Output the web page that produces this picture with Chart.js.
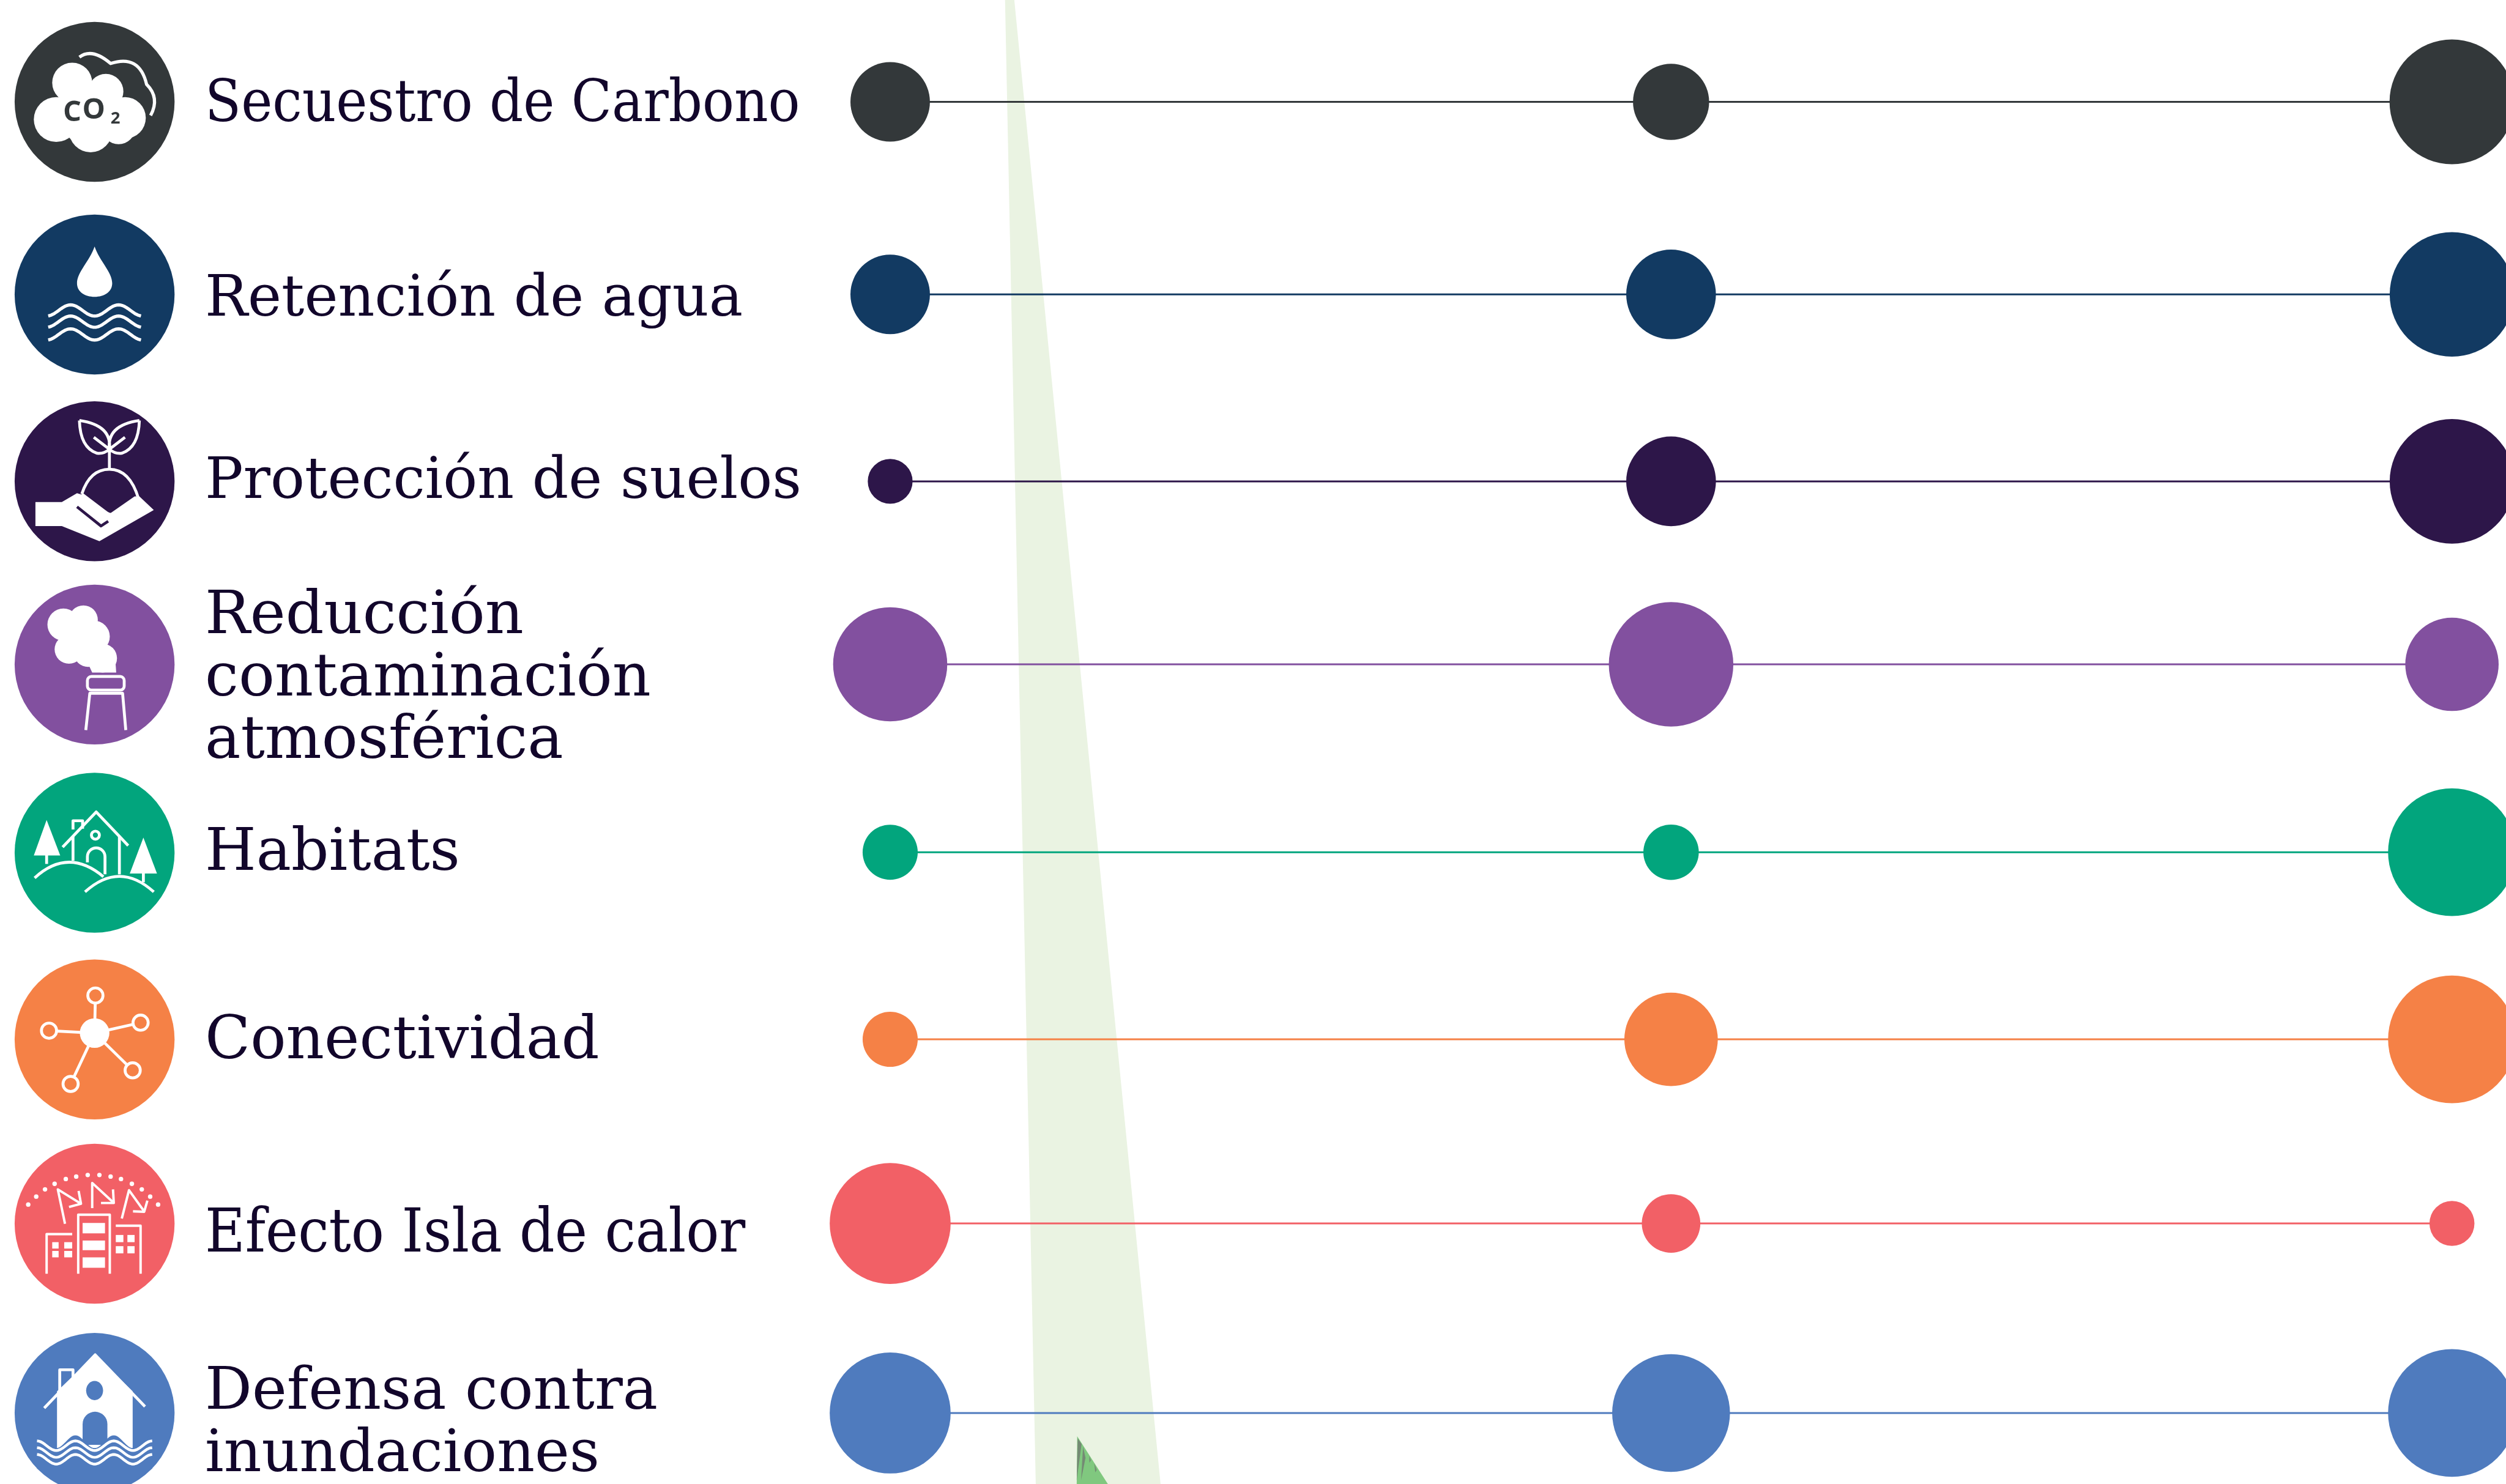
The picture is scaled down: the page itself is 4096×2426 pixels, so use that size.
<!DOCTYPE html>
<html lang="es">
<head>
<meta charset="utf-8">
<title>Servicios ecosistémicos</title>
<script src="https://cdn.jsdelivr.net/npm/chart.js@4/dist/chart.umd.js"></script>
<style>
    html, body { margin: 0; padding: 0; background: #fff; overflow: hidden; }
    canvas { display: block; }
</style>
</head>
<body>
<canvas id="chart" width="4096" height="2426"></canvas>
<script>
// Row labels, as broken over lines in the picture
const categories = [
    ['Secuestro de Carbono'],
    ['Retención de agua'],
    ['Protección de suelos'],
    ['Reducción', 'contaminación', 'atmosférica'],
    ['Habitats'],
    ['Conectividad'],
    ['Efecto Isla de calor'],
    ['Defensa contra', 'inundaciones']
];

// Three unnamed columns, one value per column (biggest = 100)
const columns = [0, 1, 2];
const secuestro = [38.7, 35.5, 95.5];
const retencion = [38.7, 49.3, 95];
const proteccion = [12.3, 49.3, 95];
const reduccion = [79.8, 95, 53.4];
const habitats = [18.6, 18.8, 100];
const conectividad = [18.6, 53.5, 100];
const efectoIsla = [89.6, 21, 12.4];
const defensa = [89.6, 85, 100];
const seriesValues = [secuestro, retencion, proteccion, reduccion, habitats, conectividad, efectoIsla, defensa];

const rowColors = ['#33383a', '#123a62', '#2d1649', '#82509f', '#02a57d', '#f58146', '#f26066', '#4f7bbe'];

// Rows are not quite evenly spaced in the original
const rowAt = [0, 1.028, 2.026, 3.003, 4.006, 5.005, 5.988, 7];
const labelAt = [0.023, 1.062, 2.035, 3.086, 4.020, 5.023, 6.052, 7.064];
const labelSizes = [96, 93, 93, 98, 96, 97, 100, 96];
const labelFamilies = ['"DejaVu Serif Condensed"', '"DejaVu Serif"', '"DejaVu Serif"', '"DejaVu Serif"',
    '"DejaVu Serif"', '"DejaVu Serif"', '"DejaVu Serif Condensed"', '"DejaVu Serif"'];

const S = 4096 / 5139;
const MAX_RADIUS = 131 * S;
const ICON_X = 194 * S;
const ICON_R = 164 * S;
const iconRows = [209, 604, 987, 1363, 1749, 2132, 2510, 2898];
const WHITE = '#ffffff';

function bubbleRadius(value) {
    return MAX_RADIUS * Math.sqrt(value / 100);
}

function line(ctx, pts, width) {
    ctx.beginPath();
    pts.forEach((p, i) => (i ? ctx.lineTo(p[0], p[1]) : ctx.moveTo(p[0], p[1])));
    ctx.lineWidth = width || 3.6;
    ctx.strokeStyle = WHITE;
    ctx.stroke();
}

function fillPoly(ctx, pts, color) {
    ctx.beginPath();
    pts.forEach((p, i) => (i ? ctx.lineTo(p[0], p[1]) : ctx.moveTo(p[0], p[1])));
    ctx.closePath();
    ctx.fillStyle = color || WHITE;
    ctx.fill();
}

function disc(ctx, x, y, r, color) {
    ctx.beginPath();
    ctx.arc(x, y, r, 0, Math.PI * 2);
    ctx.fillStyle = color || WHITE;
    ctx.fill();
}

function ring(ctx, x, y, r, width) {
    ctx.beginPath();
    ctx.arc(x, y, r, 0, Math.PI * 2);
    ctx.lineWidth = width || 3.6;
    ctx.strokeStyle = WHITE;
    ctx.stroke();
}

function wave(ctx, y0, amp, period, half, width) {
    const pts = [];
    for (let x = -half; x <= half; x += 2) {
        pts.push([x, y0 + amp * Math.cos(2 * Math.PI * x / period)]);
    }
    line(ctx, pts, width);
}

const iconGlyphs = [
    function co2(ctx, bg) {
        [[-28, -24, 25], [14, -13, 22], [38, 20, 26], [-48, 22, 28], [-5, 36, 27], [30, 32, 21], [-5, 15, 40]]
            .forEach(c => disc(ctx, c[0], c[1], c[2]));
        ctx.beginPath();
        ctx.moveTo(-19, -56);
        ctx.quadraticCurveTo(-3, -68, 20, -48);
        ctx.quadraticCurveTo(56, -60, 65, -22);
        ctx.quadraticCurveTo(82, -5, 70, 17);
        ctx.lineWidth = 4;
        ctx.strokeStyle = WHITE;
        ctx.stroke();
        ctx.fillStyle = bg;
        ctx.textAlign = 'center';
        ctx.textBaseline = 'middle';
        ctx.font = '700 36px "Open Sans"';
        ctx.fillText('C', -28, 14);
        ctx.fillText('O', -1, 11);
        ctx.font = '700 21px "Open Sans"';
        ctx.fillText('2', 26, 21);
    },
    function water(ctx) {
        ctx.beginPath();
        ctx.moveTo(0, -60);
        ctx.bezierCurveTo(-6, -42, -22, -28, -22, -14);
        ctx.bezierCurveTo(-22, -3, -12, 3, 0, 3);
        ctx.bezierCurveTo(12, 3, 22, -3, 22, -14);
        ctx.bezierCurveTo(22, -28, 6, -42, 0, -60);
        ctx.fillStyle = WHITE;
        ctx.fill();
        [20, 34, 50].forEach(y => wave(ctx, y, 7, 60, 58, 4));
    },
    function soil(ctx, bg) {
        fillPoly(ctx, [[-74, 26], [-41, 26], [-22, 15], [-15, 17], [17, 42], [50, 19], [56, 19], [74, 36], [6, 75], [-41, 56], [-74, 56]]);
        ctx.strokeStyle = bg;
        ctx.lineWidth = 3.5;
        ctx.beginPath();
        ctx.moveTo(-22, 32);
        ctx.lineTo(8, 56);
        ctx.lineTo(17, 50);
        ctx.stroke();
        ctx.strokeStyle = WHITE;
        ctx.lineWidth = 3.6;
        ctx.beginPath();
        ctx.moveTo(-16, 16);
        ctx.quadraticCurveTo(-6, -15, 18.5, -15);
        ctx.quadraticCurveTo(44, -15, 55, 22);
        ctx.lineTo(24, 40);
        ctx.moveTo(-16, 16);
        ctx.lineTo(13, 38);
        ctx.quadraticCurveTo(20, 44, 24, 40);
        // leaves and stem
        ctx.moveTo(18.5, -15);
        ctx.lineTo(18.5, -40);
        ctx.moveTo(-19, -76);
        ctx.quadraticCurveTo(-18, -42, 3, -35);
        ctx.quadraticCurveTo(12, -34, 18.5, -40);
        ctx.quadraticCurveTo(22, -70, -19, -76);
        ctx.moveTo(56, -76);
        ctx.quadraticCurveTo(55, -42, 34, -35);
        ctx.quadraticCurveTo(25, -34, 18.5, -40);
        ctx.quadraticCurveTo(15, -70, 56, -76);
        ctx.moveTo(-1, -55);
        ctx.lineTo(18.5, -40);
        ctx.moveTo(38, -55);
        ctx.lineTo(18.5, -40);
        ctx.stroke();
    },
    function smoke(ctx) {
        [[-39, -50, 20], [-14, -56, 18], [-1, -35, 20], [-32, -19, 18], [10, -8, 18], [-18, -35, 20], [-8, -15, 18]]
            .forEach(c => disc(ctx, c[0], c[1], c[2]));
        fillPoly(ctx, [[-10, -5], [26, -5], [27, 10], [-3, 10]]);
        ctx.strokeStyle = WHITE;
        ctx.lineWidth = 3.6;
        ctx.beginPath();
        ctx.roundRect(-9, 15, 46, 17, 5);
        ctx.stroke();
        line(ctx, [[-11, 82], [-6, 36], [35, 36], [39, 82]]);
    },
    function habitat(ctx) {
        line(ctx, [[-40, -7], [2, -51], [42, -9]]);
        line(ctx, [[-27, -29], [-27, -40], [-15, -40], [-15, -30]]);
        line(ctx, [[-27, -21], [-27, 10]]);
        line(ctx, [[31, -21], [31, 27]]);
        ring(ctx, 1, -22, 5);
        ctx.strokeStyle = WHITE;
        ctx.lineWidth = 3.6;
        ctx.beginPath();
        ctx.moveTo(-9, 12);
        ctx.lineTo(-9, 5);
        ctx.arc(2, 5, 11, Math.PI, 0);
        ctx.lineTo(13, 27);
        ctx.moveTo(-75, 31.5);
        ctx.quadraticCurveTo(-33, -7, 11, 30);
        ctx.moveTo(-12, 49);
        ctx.quadraticCurveTo(31, 10, 74, 49);
        ctx.stroke();
        fillPoly(ctx, [[-60, -41], [-76, 3.5], [-43, 3.5]]);
        line(ctx, [[-60, 3], [-60, 14]]);
        fillPoly(ctx, [[61, -19], [44, 26], [78, 26]]);
        line(ctx, [[61, 25], [61, 37]]);
    },
    function network(ctx) {
        const hub = [0, -8];
        [[1, -55], [57.5, -21], [-57, -11], [47.6, 38.6], [-30, 55.6]].forEach(p => {
            const dx = p[0] - hub[0];
            const dy = p[1] - hub[1];
            const d = Math.hypot(dx, dy);
            line(ctx, [hub, [p[0] - dx / d * 10, p[1] - dy / d * 10]]);
            ring(ctx, p[0], p[1], 9.5);
        });
        disc(ctx, hub[0], hub[1], 18.5);
    },
    function heat(ctx) {
        [[-83, -24], [-73, -34], [-62, -43], [-50, -50], [-36, -56], [-23, -59], [-8.6, -61], [6, -61], [20, -59], [33, -56], [46.6, -50], [59, -43], [69.5, -34], [79.4, -24]]
            .forEach(p => disc(ctx, p[0], p[1], 2.8));
        line(ctx, [[-37, 0], [-46, -43], [-17, -25]], 3);
        line(ctx, [[-20, -41], [-17, -25], [-32, -21]], 3);
        line(ctx, [[-3, -19.5], [-3, -51], [23, -27]], 3);
        line(ctx, [[23, -43], [24, -26], [8, -26]], 3);
        line(ctx, [[34, -6.5], [43, -42], [62, -15.5]], 3);
        line(ctx, [[66, -29], [62, -15], [48, -15.5]], 3);
        line(ctx, [[-20.5, 62.5], [-20.5, -11.4], [19, -11.4], [19, 62.5]], 3);
        [[-1, 12], [21, 33], [42, 55]].forEach(r => {
            fillPoly(ctx, [[-15, r[0]], [13, r[0]], [13, r[1]], [-15, r[1]]]);
        });
        line(ctx, [[-60, 62.5], [-60, 13], [-28, 13]], 3);
        line(ctx, [[26.5, 2.4], [57.5, 2.4], [57.5, 62.5]], 3);
        [[-53, -45, 23, 31], [-38, -28, 23, 31], [-53, -45, 34, 42], [-38, -28, 34, 42],
         [26.5, 36, 14, 23], [41, 50, 14, 23], [26.5, 36, 28, 37], [41, 50, 28, 37]].forEach(w => {
            fillPoly(ctx, [[w[0], w[2]], [w[1], w[2]], [w[1], w[3]], [w[0], w[3]]]);
        });
    },
    function flood(ctx, bg) {
        fillPoly(ctx, [[0.7, -72.7], [-47, -27], [-47, 45], [47.6, 45], [47.6, -27]]);
        line(ctx, [[-63, -6], [0.7, -72.7], [63, -8]]);
        line(ctx, [[-43.6, -25], [-43.6, -54], [-27, -54], [-27, -43]]);
        ctx.fillStyle = bg;
        ctx.beginPath();
        ctx.ellipse(0, -28, 10.6, 12, 0, 0, Math.PI * 2);
        ctx.fill();
        ctx.beginPath();
        ctx.moveTo(-15, 40);
        ctx.lineTo(-15, 14);
        ctx.arc(0.5, 14, 15.5, Math.PI, 0);
        ctx.lineTo(16, 40);
        ctx.fill();
        // scalloped foot of the house
        const foot = [];
        for (let x = -72; x <= 72; x += 2) {
            foot.push([x, 36 + 8 * Math.cos(2 * Math.PI * x / 48)]);
        }
        foot.push([72, 70], [-72, 70]);
        fillPoly(ctx, foot, bg);
        [41, 49.5, 58].forEach(y => wave(ctx, y, 6, 48, 72, 3.4));
    }
];

const backdrop = {
    id: 'backdrop',
    beforeDatasetsDraw(chart) {
        const ctx = chart.ctx;
        ctx.save();
        // pale wedge and the tip of the green shape behind the rows
        ctx.scale(S, S);
        fillPoly(ctx, [[2061, 0], [2080, 0], [2380, 3044], [2124, 3044]], '#eaf3e2');
        fillPoly(ctx, [[2209, 2946], [2272, 3044], [2208, 3044]], '#80c87f');
        [[[2210, 2950], [2218, 2962], [2208, 3036]],
         [[2221, 2967], [2226, 2990], [2217, 3036]],
         [[2234, 2986], [2237, 2995], [2234, 3000]],
         [[2244, 3001], [2249, 3015], [2246, 3020]]].forEach(p => fillPoly(ctx, p, '#748a74'));
        ctx.restore();

        iconRows.forEach((y, i) => {
            const bg = rowColors[i];
            ctx.save();
            ctx.translate(ICON_X, y * S);
            disc(ctx, 0, 0, ICON_R, bg);
            // glyphs are drawn with the circle radius = 100
            ctx.scale(ICON_R / 100, ICON_R / 100);
            ctx.lineJoin = 'round';
            ctx.lineCap = 'butt';
            iconGlyphs[i](ctx, bg);
            ctx.restore();
        });
    }
};

const datasets = seriesValues.map((values, i) => ({
    type: 'line',
    label: categories[i].join(' '),
    data: columns.map((x, c) => ({ x: x, y: rowAt[i], v: values[c] })),
    borderColor: rowColors[i],
    borderWidth: 3,
    backgroundColor: rowColors[i],
    pointBackgroundColor: rowColors[i],
    pointBorderWidth: 0,
    pointRadius: context => bubbleRadius(context.raw.v),
    clip: false,
    tension: 0
}));

const chart = new Chart(document.getElementById('chart'), {
    type: 'line',
    data: { datasets: datasets },
    plugins: [backdrop],
    options: {
        responsive: false,
        animation: false,
        devicePixelRatio: 1,
        layout: { autoPadding: false, padding: { left: 335, right: 0, top: 0, bottom: 0 } },
        plugins: {
            legend: { display: false },
            tooltip: { enabled: false },
            title: { display: false }
        },
        scales: {
            x: {
                type: 'linear',
                display: false,
                min: -0.0940,
                max: 2.0692
            },
            y: {
                type: 'linear',
                reverse: true,
                min: -0.5438,
                max: 7.379,
                border: { display: false },
                grid: { display: false, drawTicks: false },
                afterBuildTicks: scale => {
                    scale.ticks = labelAt.map(v => ({ value: v }));
                },
                afterFit: scale => {
                    scale.width = 1000;
                    scale.paddingTop = 0;
                    scale.paddingBottom = 0;
                },
                ticks: {
                    autoSkip: false,
                    maxRotation: 0,
                    minRotation: 0,
                    crossAlign: 'far',
                    color: '#12062b',
                    font: context => ({
                        family: labelFamilies[context.index] + ', serif',
                        size: labelSizes[context.index],
                        lineHeight: '102px'
                    }),
                    callback: (value, index) => categories[index]
                }
            }
        }
    }
});
</script>
</body>
</html>
